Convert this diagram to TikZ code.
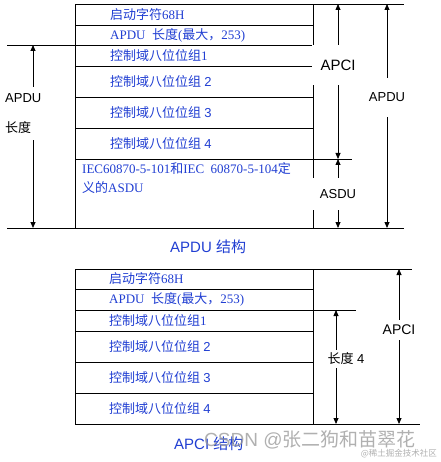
\documentclass[tikz,border=0pt]{standalone}
\usepackage{fontspec}
\setmainfont{Liberation Serif}
\setsansfont{Liberation Sans}
\newfontfamily\cjk{Noto Sans CJK SC}
\usetikzlibrary{arrows.meta}
\definecolor{tblue}{RGB}{32,62,210}
\definecolor{wmgray}{RGB}{150,150,150}
\newcommand{\cn}[1]{{\cjk #1}}
\tikzset{
  cellbox/.style={draw, line width=0.8pt, minimum width=238pt, minimum height=#1, anchor=north west, inner sep=0pt, outer sep=0pt},
  celltext/.style={anchor=west, inner sep=0pt, text=tblue, font=\fontsize{13}{16}\selectfont},
  dimline/.style={line width=0.8pt, {Triangle[width=5pt,length=6pt]}-{Triangle[width=5pt,length=6pt]}},
  guide/.style={line width=0.8pt},
  dimlabel/.style={fill=white, inner sep=0pt, font=\sffamily\fontsize{13}{16}\selectfont},
  caption/.style={anchor=west, inner sep=0pt, text=tblue, font=\sffamily\fontsize{15}{18}\selectfont},
  wmark/.style={inner sep=0pt, text=wmgray, opacity=0.75}
}
\begin{document}
\begin{tikzpicture}[x=1pt, y=-1pt]
\useasboundingbox (0,0) rectangle (440,462);

% ---------- APDU structure (top) ----------
\node[cellbox=21pt] (a1) at (75,4) {};
\node[cellbox=20pt] (a2) at (75,25) {};
\node[cellbox=21pt] (a3) at (75,45) {};
\node[cellbox=31pt] (a4) at (75,66) {};
\node[cellbox=31pt] (a5) at (75,97) {};
\node[cellbox=31pt] (a6) at (75,128) {};
\node[cellbox=69pt] (a7) at (75,159) {};

\node[celltext] (ta1) at ([xshift=35pt]a1.west) {\cn{启动字符}68H};
\node[celltext] (ta2) at ([xshift=35pt]a2.west) {APDU\ \ \cn{长度}(\cn{最大，}253)};
\node[celltext] (ta3) at ([xshift=35pt]a3.west) {\cn{控制域八位位组}1};
\node[celltext] (ta4) at ([xshift=35pt]a4.west) {\cn{控制域八位位组} \sffamily 2};
\node[celltext] (ta5) at ([xshift=35pt]a5.west) {\cn{控制域八位位组} \sffamily 3};
\node[celltext] (ta6) at ([xshift=35pt]a6.west) {\cn{控制域八位位组} \sffamily 4};
\node[celltext, anchor=north west, align=left, font=\fontsize{13}{19}\selectfont] (ta7) at (82,162)
  {IEC60870-5-101\cn{和}IEC\ \ 60870-5-104\cn{定}\\\cn{义的}ASDU};

% guide lines
\coordinate (ltop) at (7,45);
\coordinate (lbot) at (7,228);
\coordinate (rtop) at (404,4);
\coordinate (rmid) at (352,159);
\coordinate (rbot) at (404,228);
\draw[guide] (ltop) -- (a3.north west);
\draw[guide] (lbot) -- (a7.south west);
\draw[guide] (a1.north east) -- (rtop);
\draw[guide] (a7.north east) -- (rmid);
\draw[guide] (a7.south east) -- (rbot);

% dimension arrows
\coordinate (la) at (33,45);
\coordinate (lb) at (33,228);
\draw[dimline] (la) -- (lb);
\node[dimlabel, anchor=west, align=left, inner xsep=1pt, inner ysep=7pt] (apdulen) at (4,113.5)
  {APDU\\[14pt]\cn{长度}};

\coordinate (apci1) at (338,4);
\coordinate (apci2) at (338,159);
\coordinate (asdu2) at (338,228);
\draw[dimline] (apci1) -- (apci2);
\draw[dimline] (apci2) -- (asdu2);
\node[dimlabel, minimum width=52pt, minimum height=40pt, font=\sffamily\fontsize{15}{18}\selectfont] (apcilab) at (338,65.5) {APCI};
\node[dimlabel, minimum width=52pt, minimum height=32pt] (asdulab) at (338,194) {ASDU};

\coordinate (apdu1) at (387,4);
\coordinate (apdu2) at (387,228);
\draw[dimline] (apdu1) -- (apdu2);
\node[dimlabel, minimum width=44pt, minimum height=39pt] (apdulab) at (387,97.5) {APDU};

\node[caption] (cap1) at (170,247) {APDU \cn{结构}};

% ---------- APCI structure (bottom) ----------
\node[cellbox=20pt] (b1) at (75,269) {};
\node[cellbox=21pt] (b2) at (75,289) {};
\node[cellbox=21pt] (b3) at (75,310) {};
\node[cellbox=31pt] (b4) at (75,331) {};
\node[cellbox=31pt] (b5) at (75,362) {};
\node[cellbox=31pt] (b6) at (75,393) {};

\node[celltext] (tb1) at ([xshift=34pt]b1.west) {\cn{启动字符}68H};
\node[celltext] (tb2) at ([xshift=34pt]b2.west) {APDU\ \ \cn{长度}(\cn{最大，}253)};
\node[celltext] (tb3) at ([xshift=34pt]b3.west) {\cn{控制域八位位组}1};
\node[celltext] (tb4) at ([xshift=34pt]b4.west) {\cn{控制域八位位组} \sffamily 2};
\node[celltext] (tb5) at ([xshift=34pt]b5.west) {\cn{控制域八位位组} \sffamily 3};
\node[celltext] (tb6) at ([xshift=34pt]b6.west) {\cn{控制域八位位组} \sffamily 4};

\coordinate (btop) at (412,269);
\coordinate (bmid) at (356,310);
\coordinate (bbot) at (420,424);
\draw[guide] (b1.north east) -- (btop);
\draw[guide] (b3.north east) -- (bmid);
\draw[guide] (b6.south east) -- (bbot);

\coordinate (len1) at (336,310);
\coordinate (len2) at (336,424);
\draw[dimline] (len1) -- (len2);
\node[dimlabel, inner xsep=2pt, inner ysep=3pt] (lenlab) at (346,359) {\cn{长度} 4};

\coordinate (bapci1) at (399,269);
\coordinate (bapci2) at (399,424);
\draw[dimline] (bapci1) -- (bapci2);
\node[dimlabel, inner ysep=5pt, font=\sffamily\fontsize{14}{17}\selectfont] (bapcilab) at (399,330) {APCI};

\node[caption] (cap2) at (174,444) {APCI \cn{结构}};

% watermark
\node[wmark, anchor=west, font=\sffamily\fontsize{19}{22}\selectfont] (wm1) at (204,440) {CSDN @\cn{张二狗和苗翠花}};
\node[wmark, anchor=east, font=\fontsize{8.5}{10}\selectfont] (wm2) at (437,454) {\cn{@稀土掘金技术社区}};
\end{tikzpicture}
\end{document}
